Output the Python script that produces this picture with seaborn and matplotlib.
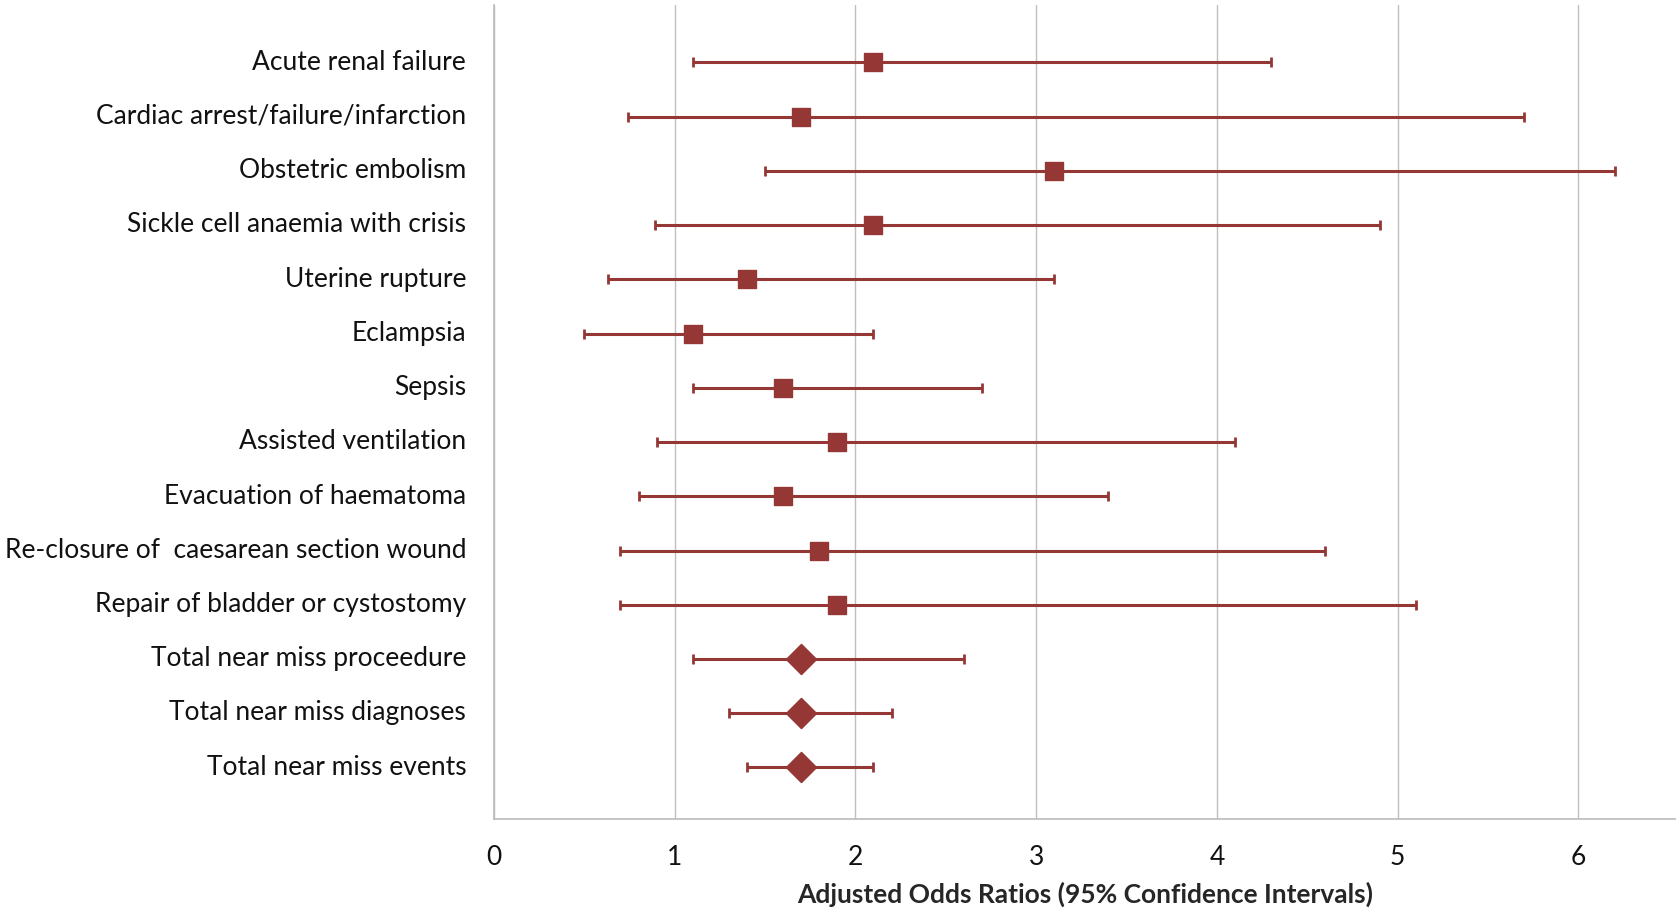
import seaborn as sns
import matplotlib.pyplot as plt
import pandas as pd

# data
labels = [
    "Acute renal failure",
    "Cardiac arrest/failure/infarction",
    "Obstetric embolism",
    "Sickle cell anaemia with crisis",
    "Uterine rupture",
    "Eclampsia",
    "Sepsis",
    "Assisted ventilation",
    "Evacuation of haematoma",
    "Re-closure of  caesarean section wound",
    "Repair of bladder or cystostomy",
    "Total near miss proceedure",
    "Total near miss diagnoses",
    "Total near miss events",
]
odds = [2.1, 1.7, 3.1, 2.1, 1.4, 1.1, 1.6, 1.9, 1.6, 1.8, 1.9, 1.7, 1.7, 1.7]
ci_low = [1.1, 0.74, 1.5, 0.89, 0.63, 0.5, 1.1, 0.9, 0.8, 0.7, 0.7, 1.1, 1.3, 1.4]
ci_high = [4.3, 5.7, 6.2, 4.9, 3.1, 2.1, 2.7, 4.1, 3.4, 4.6, 5.1, 2.6, 2.2, 2.1]
kind = ["single"] * 11 + ["total"] * 3

df = pd.DataFrame({"label": labels, "odds": odds, "low": ci_low,
                   "high": ci_high, "kind": kind})
df["pos"] = range(1, len(df) + 1)

sns.set_theme(style="white")
plt.rcParams["font.family"] = ["Lato", "DejaVu Sans"]

red = "#953735"
fig = plt.figure(figsize=(16.76, 9.13), dpi=100)
ax = fig.add_axes([0.2947, 0.103, 0.7053, 0.891])

# confidence intervals
ax.errorbar(df["odds"], df["pos"] + 0.05,
            xerr=[df["odds"] - df["low"], df["high"] - df["odds"]],
            fmt="none", ecolor=red, elinewidth=2.2, capsize=3.5,
            capthick=2, zorder=2)

# point estimates
sns.scatterplot(x=df["odds"][df["kind"] == "single"],
                y=df["pos"][df["kind"] == "single"] + 0.05,
                marker="s", s=150, color=red, edgecolor=red, ax=ax, zorder=3)
sns.scatterplot(x=df["odds"][df["kind"] == "total"],
                y=df["pos"][df["kind"] == "total"] + 0.05,
                marker="D", s=230, color=red, edgecolor=red, ax=ax, zorder=3)

ax.set_xlim(0, 6.54)
ax.set_ylim(len(df) + 1, 0)
ax.set_yticks(df["pos"])
ax.set_yticklabels(df["label"], fontsize=19, color="#111111")
ax.set_xticks(range(0, 7))
ax.set_xticklabels([str(i) for i in range(0, 7)], fontsize=19, color="#111111")
ax.tick_params(axis="y", length=8, width=1, color="#bbbbbb", pad=12)
ax.tick_params(axis="x", length=7, width=1, color="#bbbbbb", pad=12)

ax.grid(axis="x", color="#bfbfbf", linewidth=1)
ax.set_axisbelow(True)
for side in ["top", "right"]:
    ax.spines[side].set_visible(False)
for side in ["left", "bottom"]:
    ax.spines[side].set_color("#bbbbbb")
    ax.spines[side].set_linewidth(1.2)

ax.set_ylabel("")
ax.set_xlabel("Adjusted Odds Ratios (95% Confidence Intervals)",
              fontsize=19, fontweight="bold", labelpad=8)

fig.savefig("out.png", dpi=100)
